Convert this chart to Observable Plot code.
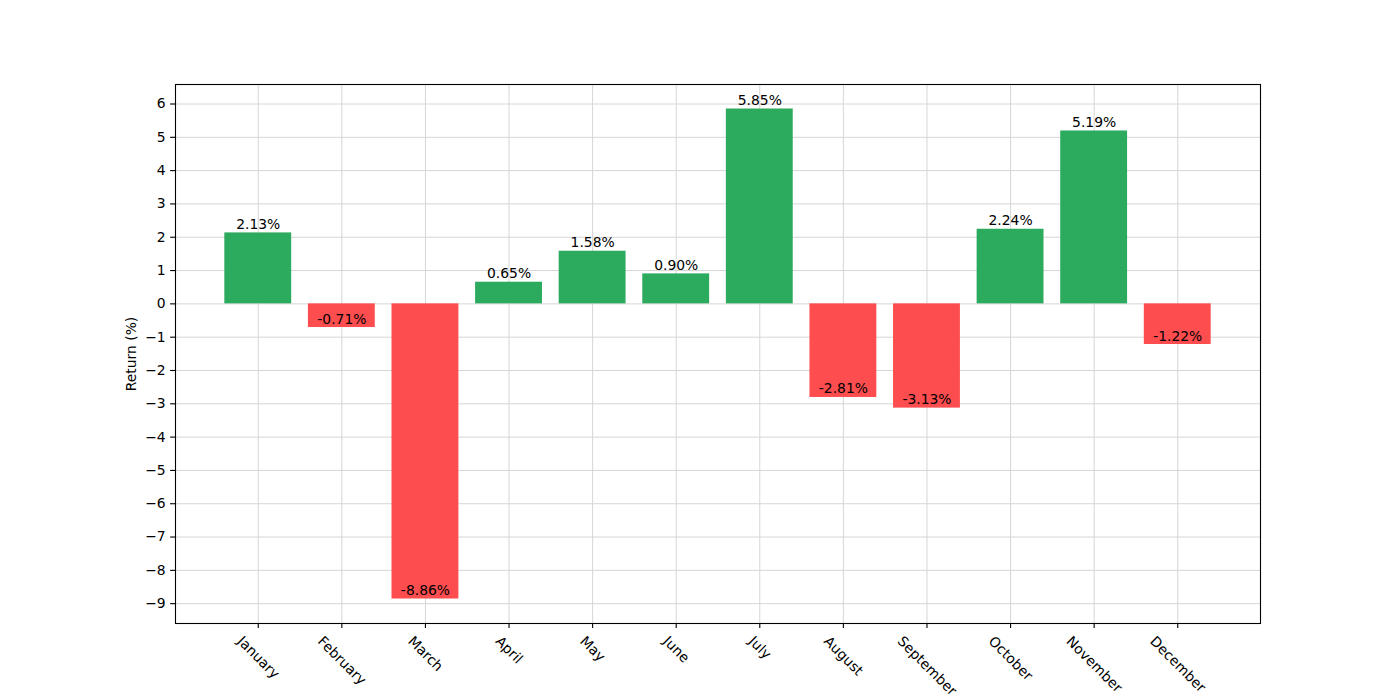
<!DOCTYPE html>
<html>
<head>
<meta charset="utf-8">
<script src="https://cdn.jsdelivr.net/npm/d3@7"></script>
<script src="https://cdn.jsdelivr.net/npm/@observablehq/plot@0.6"></script>
<style>
  html, body { margin: 0; padding: 0; background: #fff; }
  svg { display: block; }
</style>
</head>
<body>
<div id="chart"></div>
<script>
const months = ["January","February","March","April","May","June","July","August","September","October","November","December"];
const returns = [2.13, -0.71, -8.86, 0.65, 1.58, 0.90, 5.85, -2.81, -3.13, 2.24, 5.19, -1.22];
const yTicks = [-9,-8,-7,-6,-5,-4,-3,-2,-1,0,1,2,3,4,5,6];
const yLabel = "Return (%)";

const data = months.map((m, i) => ({i, month: m, value: returns[i]}));
const FS = 13.9;
const FONT = "DejaVu Sans, sans-serif";
const green = "#2cab5f";
const red = "#fe4d4f";

const ctx = document.createElement("canvas").getContext("2d");
ctx.font = `${FS}px DejaVu Sans`;
const lineH = FS * 1.17;

const monthLabels = months.map((m, i) => {
  const w = ctx.measureText(m).width;
  const dy = 9.7 + (w + lineH) * Math.SQRT1_2 / 2;
  return Plot.text([m], {x: [i], frameAnchor: "bottom", dy, rotate: 45, textAnchor: "middle", lineAnchor: "middle", fontSize: FS, fill: "black"});
});

const vmin = d3.min(returns), vmax = d3.max(returns);
const pad = (vmax - vmin) * 0.05;

const chart = Plot.plot({
  width: 1400,
  height: 700,
  marginLeft: 175,
  marginRight: 140,
  marginTop: 84,
  marginBottom: 77,
  style: {fontFamily: FONT, fontSize: FS + "px", color: "black", background: "white"},
  x: {type: "linear", domain: [-0.99, 11.99]},
  y: {domain: [vmin - pad, vmax + pad]},
  marks: [
    Plot.gridX(d3.range(12), {stroke: "#d6d6d6", strokeOpacity: 1, strokeWidth: 1}),
    Plot.gridY(yTicks, {stroke: "#d6d6d6", strokeOpacity: 1, strokeWidth: 1}),
    Plot.rectY(data, {x1: d => d.i - 0.4, x2: d => d.i + 0.4, y1: 0, y2: "value", fill: d => d.value >= 0 ? green : red, inset: 0}),
    Plot.text(data, {x: "i", y: "value", text: d => d.value.toFixed(2) + "%", lineAnchor: "bottom", dy: -4, fontSize: FS, fill: "black"}),
    Plot.axisY({ticks: yTicks, tickSize: 4.9, tickPadding: 4.9, fontSize: FS, label: null, stroke: "black", strokeWidth: 1.1}),
    Plot.axisX({ticks: d3.range(12), tickSize: 4.9, tickFormat: () => "", label: null, strokeWidth: 1.1}),
    ...monthLabels,
    Plot.text([yLabel], {frameAnchor: "left", dx: -44, rotate: -90, textAnchor: "middle", lineAnchor: "middle", fontSize: FS, fill: "black"}),
    Plot.frame({stroke: "black", strokeWidth: 1.1})
  ]
});
document.getElementById("chart").appendChild(chart);
</script>
</body>
</html>
